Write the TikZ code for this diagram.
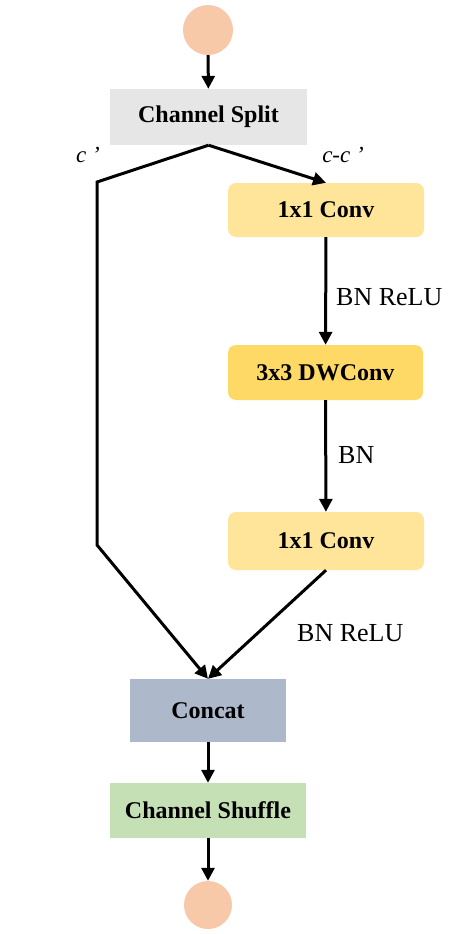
\documentclass[tikz,border=0pt]{standalone}
\usepackage{fontspec}
\setmainfont{Liberation Serif}
\usetikzlibrary{arrows.meta}
\definecolor{peach}{HTML}{F8C9A9}
\definecolor{splitgray}{HTML}{E6E6E6}
\definecolor{lightyel}{HTML}{FFE599}
\definecolor{deepyel}{HTML}{FFD966}
\definecolor{concatblue}{HTML}{ADB9CA}
\definecolor{shufgreen}{HTML}{C5E0B4}
\begin{document}
\begin{tikzpicture}[x=1pt,y=-1pt,
  blk/.style={rectangle,draw=none,inner sep=0pt,font=\fontsize{24}{28}\selectfont\bfseries},
  ybox/.style={blk,rounded corners=8pt},
  term/.style={circle,fill=peach,draw=none,minimum size=50pt,inner sep=0pt},
  lbl/.style={font=\fontsize{26}{30}\selectfont,inner sep=0pt},
  conn/.style={line width=3pt,-{Triangle[length=13pt,width=13pt]}},
  seg/.style={line width=3pt}]
\useasboundingbox (0,0) rectangle (450,934);
\fill[white] (0,0) rectangle (450,934);
\node[term] (in) at (208,30) {};
\node[blk,fill=splitgray,minimum width=197pt,minimum height=56pt] (split) at (208.5,117) {Channel Split};
\node[ybox,fill=lightyel,minimum width=196pt,minimum height=54pt] (conv1) at (326,210) {1x1 Conv};
\node[ybox,fill=deepyel,minimum width=195pt,minimum height=55pt] (dw) at (325.5,372.5) {3x3 DWConv};
\node[ybox,fill=lightyel,minimum width=196pt,minimum height=58pt] (conv2) at (326,541) {1x1 Conv};
\node[blk,fill=concatblue,minimum width=156pt,minimum height=63pt] (concat) at (208,710.5) {Concat};
\node[blk,fill=shufgreen,minimum width=196pt,minimum height=55pt] (shuf) at (208,810.5) {Channel Shuffle};
\node[term,minimum size=48pt] (out) at (208,905) {};
\coordinate (l1) at (97,182);
\coordinate (l2) at (97,545);
\node[lbl,font=\fontsize{23}{27}\selectfont\itshape] (lc) at (88,155) {c ’};
\node[lbl,font=\fontsize{23}{27}\selectfont\itshape] (lcc) at (343,155) {c-c ’};
\node[lbl,anchor=west] (b1) at (336,297) {BN ReLU};
\node[lbl,anchor=west] (b2) at (338,455) {BN};
\node[lbl,anchor=west] (b3) at (297,633) {BN ReLU};
\draw[conn] (in) -- (split);
\draw[conn] (split.south) -- (conv1.north);
\draw[conn] (split.south) -- (l1) -- (l2) -- (concat.north);
\draw[conn] (conv1) -- (dw);
\draw[conn] (dw) -- (conv2);
\draw[conn] (conv2.south) -- (concat.north);
\draw[conn] (concat) -- (shuf);
\draw[conn] (shuf) -- (out);
\end{tikzpicture}
\end{document}
